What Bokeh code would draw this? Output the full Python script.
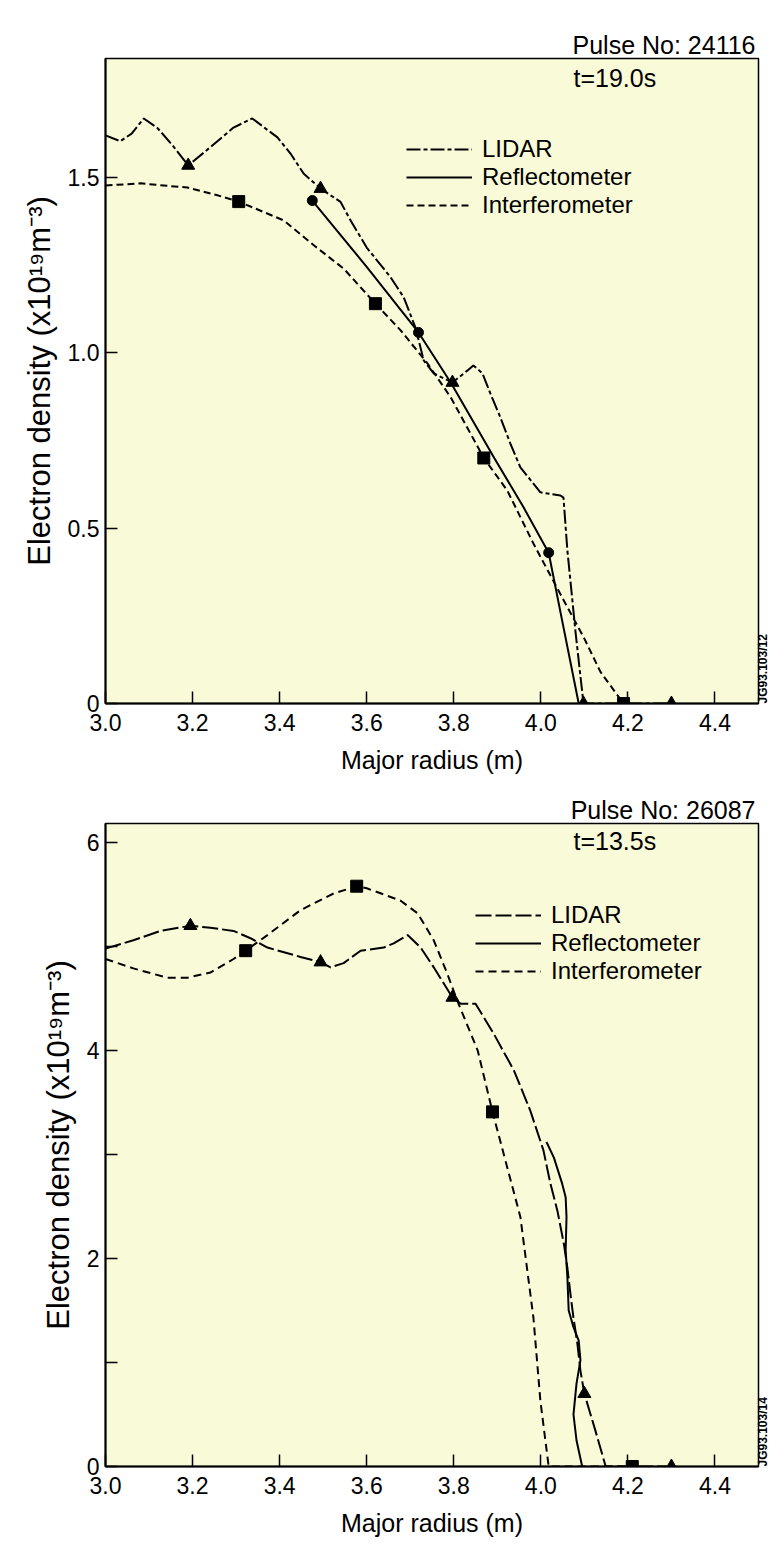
import math
from bokeh.plotting import figure
from bokeh.models import (Range1d, FixedTicker, CustomJSTickFormatter, Label,
                          Legend, LegendItem, LinearAxis)
from bokeh.layouts import column
from bokeh.embed import file_html
from bokeh.resources import INLINE

# ---------------- data: pulse 24116 ----------------
p1_lidar_x = [3.000, 3.034, 3.060, 3.088, 3.120, 3.155, 3.190, 3.230, 3.294, 3.337,
              3.395, 3.425, 3.455, 3.494, 3.540, 3.563, 3.600, 3.655, 3.685, 3.712,
              3.731, 3.754, 3.797, 3.831, 3.845, 3.866, 3.884, 3.907, 3.930, 3.953,
              3.983, 3.999, 4.045, 4.052, 4.061, 4.080, 4.098, 4.300]
p1_lidar_y = [1.620, 1.603, 1.625, 1.668, 1.640, 1.590, 1.534, 1.575, 1.642, 1.668,
              1.614, 1.568, 1.511, 1.468, 1.430, 1.377, 1.300, 1.215, 1.158, 1.072,
              0.978, 0.941, 0.915, 0.949, 0.964, 0.941, 0.884, 0.816, 0.741, 0.673,
              0.627, 0.602, 0.593, 0.587, 0.436, 0.200, 0.000, 0.000]
p1_lidar_mx = [3.190, 3.494, 3.797, 4.098, 4.300]
p1_lidar_my = [1.534, 1.468, 0.915, 0.000, 0.000]

p1_refl_x = [3.475, 3.600, 3.719, 3.793, 3.893, 3.960, 4.018, 4.050, 4.087]
p1_refl_y = [1.434, 1.245, 1.058, 0.915, 0.700, 0.560, 0.430, 0.230, 0.000]
p1_refl_mx = [3.475, 3.719, 4.018]
p1_refl_my = [1.434, 1.058, 0.430]

p1_intf_x = [3.000, 3.080, 3.188, 3.257, 3.306, 3.410, 3.480, 3.547, 3.620, 3.678,
             3.740, 3.793, 3.869, 3.923, 3.983, 4.050, 4.100, 4.137, 4.190]
p1_intf_y = [1.477, 1.483, 1.471, 1.449, 1.431, 1.377, 1.305, 1.240, 1.140, 1.064,
             0.969, 0.873, 0.700, 0.607, 0.456, 0.300, 0.185, 0.090, 0.000]
p1_intf_mx = [3.306, 3.620, 3.869, 4.190]
p1_intf_my = [1.431, 1.140, 0.700, 0.000]

# ---------------- data: pulse 26087 ----------------
p2_lidar_x = [3.000, 3.064, 3.126, 3.195, 3.241, 3.294, 3.333, 3.372, 3.448, 3.494,
              3.517, 3.547, 3.586, 3.639, 3.662, 3.694, 3.724, 3.754, 3.797, 3.816,
              3.850, 3.892, 3.938, 3.976, 4.006, 4.022, 4.038, 4.053, 4.061, 4.068,
              4.075, 4.084, 4.091, 4.100, 4.125, 4.149, 4.300]
p2_lidar_y = [4.98, 5.06, 5.15, 5.20, 5.18, 5.15, 5.08, 4.99, 4.90, 4.85,
              4.80, 4.84, 4.96, 4.99, 5.03, 5.11, 4.99, 4.80, 4.51, 4.45,
              4.45, 4.16, 3.81, 3.42, 3.04, 2.72, 2.46, 2.14, 1.91, 1.66,
              1.43, 1.18, 0.92, 0.70, 0.35, 0.00, 0.00]
p2_lidar_mx = [3.195, 3.494, 3.797, 4.100, 4.300]
p2_lidar_my = [5.20, 4.85, 4.51, 0.70, 0.00]

p2_refl_x = [4.013, 4.030, 4.049, 4.057, 4.059, 4.057, 4.061, 4.064, 4.075, 4.087,
             4.091, 4.082, 4.075, 4.082, 4.095]
p2_refl_y = [3.12, 2.97, 2.72, 2.59, 2.40, 2.08, 1.82, 1.50, 1.34, 1.21,
             1.02, 0.80, 0.50, 0.25, 0.00]

p2_intf_x = [3.000, 3.064, 3.142, 3.188, 3.241, 3.294, 3.322, 3.372, 3.448, 3.524,
             3.577, 3.600, 3.640, 3.678, 3.717, 3.754, 3.785, 3.808, 3.855, 3.889,
             3.953, 3.983, 3.999, 4.018, 4.210]
p2_intf_y = [4.88, 4.79, 4.70, 4.70, 4.75, 4.88, 4.96, 5.11, 5.35, 5.51,
             5.58, 5.56, 5.50, 5.44, 5.32, 5.06, 4.74, 4.48, 4.00, 3.41,
             2.40, 1.43, 0.63, 0.00, 0.00]
p2_intf_mx = [3.322, 3.577, 3.889, 4.210]
p2_intf_my = [4.96, 5.58, 3.41, 0.00]

x_ticks = [3.0, 3.2, 3.4, 3.6, 3.8, 4.0, 4.2, 4.4]
p1_y_ticks = [0, 0.5, 1.0, 1.5]
p2_y_ticks = [0, 2, 4, 6]
p2_y_minor = [1, 3, 5]

series_names = ["LIDAR", "Reflectometer", "Interferometer"]

FONT = "Liberation Sans"
BG = "#f8fad8"


def base_fig(height, top, bottom, ymax, yticks, yminor, yfmt, pulse):
    p = figure(width=784, height=height, output_backend="svg", toolbar_location=None,
               x_range=Range1d(3.0, 4.5), y_range=Range1d(0, ymax),
               min_border_left=105, min_border_right=26,
               min_border_top=top, min_border_bottom=bottom)
    p.background_fill_color = BG
    p.border_fill_color = "white"
    p.outline_line_color = "black"
    p.outline_line_width = 1.5
    p.grid.visible = False
    p.title.text = pulse
    p.title.align = "right"
    p.title.offset = 3
    p.title.text_font = FONT
    p.title.text_font_size = "25px"
    p.title.text_font_style = "normal"
    p.title.text_color = "black"
    p.title.standoff = 0
    for ax in (p.xaxis[0], p.yaxis[0]):
        ax.axis_line_width = 2
        ax.major_tick_in = 12
        ax.major_tick_out = 0
        ax.major_tick_line_width = 1.5
        ax.minor_tick_in = 12
        ax.minor_tick_out = 0
        ax.minor_tick_line_width = 1.5
        ax.major_label_text_font = FONT
        ax.major_label_text_font_size = "23px"
        ax.major_label_text_color = "black"
        ax.axis_label_text_font = FONT
        ax.axis_label_text_font_style = "normal"
        ax.axis_label_text_color = "black"
    p.xaxis.ticker = FixedTicker(ticks=x_ticks)
    p.xaxis.formatter = CustomJSTickFormatter(code="return tick.toFixed(1);")
    p.xaxis.minor_tick_line_color = None
    p.xaxis.axis_label = "Major radius (m)"
    p.xaxis.axis_label_text_font_size = "25px"
    p.xaxis.axis_label_standoff = 12
    p.xaxis.major_label_standoff = 10
    p.yaxis.ticker = FixedTicker(ticks=yticks, minor_ticks=yminor)
    p.yaxis.formatter = CustomJSTickFormatter(code=yfmt)
    if not yminor:
        p.yaxis.minor_tick_line_color = None
    p.yaxis.axis_label = "Electron density (x10\u00b9\u2079m\u207b\u00b3)"
    p.yaxis.axis_label_text_font_size = "31px"
    p.yaxis.axis_label_standoff = 8
    p.yaxis.major_label_standoff = 6
    return p


def add_texts(p, tlabel, y_t, jg):
    p.add_layout(Label(x=4.075, y=y_t, text=tlabel, text_align="left",
                       text_baseline="middle", text_font=FONT, text_font_size="25px",
                       text_color="black"))
    jg_axis = LinearAxis(ticker=FixedTicker(ticks=[0]),
                         formatter=CustomJSTickFormatter(code="return '%s';" % jg),
                         axis_line_color=None, major_tick_line_color=None,
                         major_tick_in=0, major_tick_out=0,
                         minor_tick_line_color=None, minor_tick_in=0, minor_tick_out=0,
                         major_label_standoff=4,
                         major_label_orientation=math.pi / 2,
                         major_label_text_font=FONT, major_label_text_font_size="12px",
                         major_label_text_font_style="bold",
                         major_label_text_color="black")
    p.add_layout(jg_axis, "right")


def add_legend(p, renderers, xloc, ybottoms):
    for n, r, yb in zip(series_names, renderers, ybottoms):
        lg = Legend(items=[LegendItem(label=n, renderers=[r])], location=(xloc, yb),
                    glyph_width=66, glyph_height=20,
                    label_standoff=10, spacing=0, padding=0, margin=0,
                    label_text_font=FONT, label_text_font_size="24px",
                    label_height=24, label_text_color="black",
                    border_line_color=None, background_fill_alpha=0)
        p.add_layout(lg)


# ---------------- top figure ----------------
p1 = base_fig(790, 58, 87, 1.839, p1_y_ticks, [],
              "return tick == 0 ? '0' : tick.toFixed(1);", "Pulse No: 24116")
l1 = p1.line(p1_lidar_x, p1_lidar_y, line_color="black", line_width=2,
             line_dash="14 3 4 3")
r1 = p1.line(p1_refl_x, p1_refl_y, line_color="black", line_width=2)
i1 = p1.line(p1_intf_x, p1_intf_y, line_color="black", line_width=2, line_dash="7 4")
p1.scatter(p1_lidar_mx, p1_lidar_my, marker="triangle", size=13, color="black")
p1.scatter(p1_refl_mx, p1_refl_my, marker="circle", size=10, color="black")
p1.scatter(p1_intf_mx, p1_intf_my, marker="square", size=12, color="black")
add_texts(p1, "t=19.0s", 1.784, "JG93.103/12")
add_legend(p1, [l1, r1, i1], 301, [540, 512, 484])

# ---------------- bottom figure ----------------
p2 = base_fig(759, 33, 83, 6.183, p2_y_ticks, p2_y_minor,
              "return tick.toFixed(0);", "Pulse No: 26087")
l2 = p2.line(p2_lidar_x, p2_lidar_y, line_color="black", line_width=2,
             line_dash="16 4")
r2 = p2.line(p2_refl_x, p2_refl_y, line_color="black", line_width=2)
i2 = p2.line(p2_intf_x, p2_intf_y, line_color="black", line_width=2, line_dash="8 5")
p2.scatter(p2_lidar_mx, p2_lidar_my, marker="triangle", size=13, color="black")
p2.scatter(p2_intf_mx, p2_intf_my, marker="square", size=12, color="black")
add_texts(p2, "t=13.5s", 6.01, "JG93.103/14")
add_legend(p2, [l2, r2, i2], 370, [537, 509, 481])

layout = column(p1, p2, spacing=0)
open("out.html", "w").write(file_html(layout, INLINE))
